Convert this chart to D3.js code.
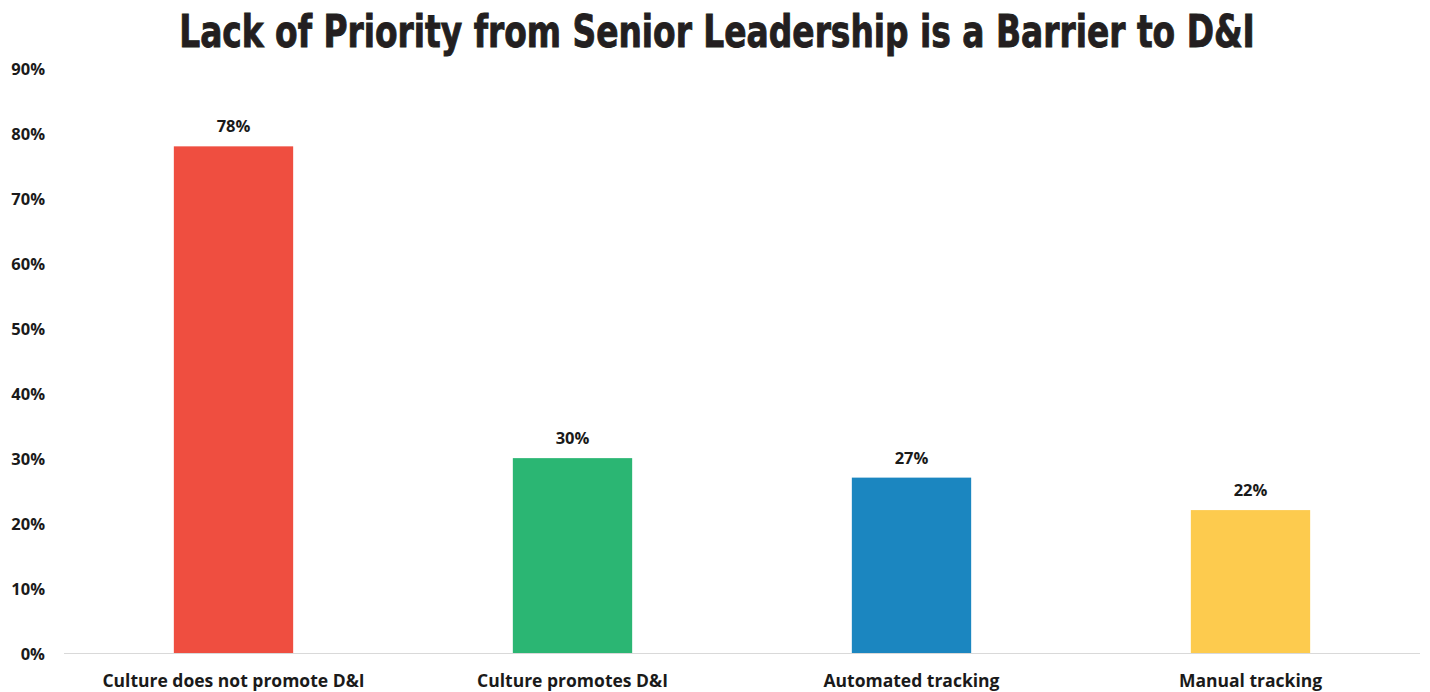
<!DOCTYPE html>
<html>
<head>
<meta charset="utf-8">
<script src="https://cdn.jsdelivr.net/npm/d3@7"></script>
<style>
  html, body { margin: 0; padding: 0; background: #ffffff; }
  svg { display: block; }
</style>
</head>
<body>
<svg id="chart" width="1430" height="692"></svg>
<script>
// Chart data
const title = "Lack of Priority from Senior Leadership is a Barrier to D&I";
const categories = ["Culture does not promote D&I", "Culture promotes D&I", "Automated tracking", "Manual tracking"];
const values = [0.78, 0.30, 0.27, 0.22];
const barColors = ["#EF4E40", "#2BB673", "#1B86C0", "#FDCB4E"];
const yTicks = [0, 0.1, 0.2, 0.3, 0.4, 0.5, 0.6, 0.7, 0.8, 0.9];

const svg = d3.select("#chart");
const labelFont = "'Open Sans', 'Liberation Sans', sans-serif";

const plot = { left: 64, right: 1420, top: 68.4, bottom: 653 };

const x = d3.scaleBand()
  .domain(categories)
  .range([plot.left, plot.right])
  .padding(0);

const y = d3.scaleLinear()
  .domain([0, 0.9])
  .range([plot.bottom, plot.top]);

const barWidth = x.bandwidth() * 0.352;

// Title: condensed heavy face, narrowed horizontally to a fixed width
const titleWidth = 1076, titleCenter = 717;
const titleG = svg.append("g");
const titleText = titleG.append("text")
  .attr("x", 0)
  .attr("y", 0)
  .attr("text-anchor", "middle")
  .style("font-family", "'DejaVu Sans Condensed', 'DejaVu Sans', sans-serif")
  .style("font-stretch", "condensed")
  .style("font-weight", "bold")
  .style("font-size", "44px")
  .style("fill", "#231F20")
  .style("stroke", "#231F20")
  .style("stroke-width", "0.9px")
  .text(title);
const natural = titleText.node().getComputedTextLength();
const sx = Math.min(1, titleWidth / natural);
titleG.attr("transform", `translate(${titleCenter},47) scale(${sx},1)`);

// Y axis labels (no line, no ticks)
const yAxis = d3.axisLeft(y)
  .tickValues(yTicks)
  .tickFormat(d3.format(".0%"))
  .tickSize(0)
  .tickPadding(0);

const yg = svg.append("g")
  .attr("transform", "translate(45,1)")
  .call(yAxis);
yg.select(".domain").remove();
yg.selectAll("text")
  .style("font-family", labelFont)
  .style("font-weight", "bold")
  .style("font-size", "16.5px")
  .style("fill", "#1A1A1A");

// Bars
svg.append("g")
  .selectAll("rect")
  .data(values)
  .join("rect")
  .attr("x", (d, i) => x(categories[i]) + (x.bandwidth() - barWidth) / 2)
  .attr("y", d => y(d))
  .attr("width", barWidth)
  .attr("height", d => y(0) - y(d))
  .attr("fill", (d, i) => barColors[i]);

// Baseline
svg.append("line")
  .attr("x1", plot.left)
  .attr("x2", plot.right)
  .attr("y1", y(0) + 0.5)
  .attr("y2", y(0) + 0.5)
  .attr("stroke", "#D9D9D9")
  .attr("stroke-width", 1.2);

// Value labels
svg.append("g")
  .selectAll("text")
  .data(values)
  .join("text")
  .attr("x", (d, i) => x(categories[i]) + x.bandwidth() / 2)
  .attr("y", d => y(d) - 14)
  .attr("text-anchor", "middle")
  .style("font-family", labelFont)
  .style("font-weight", "bold")
  .style("font-size", "16.5px")
  .style("fill", "#1A1A1A")
  .text(d => d3.format(".0%")(d));

// Category labels
const xAxis = d3.axisBottom(x).tickSize(0).tickPadding(0);
const xg = svg.append("g")
  .attr("transform", `translate(0,${y(0) + 22})`)
  .call(xAxis);
xg.select(".domain").remove();
xg.selectAll("text")
  .attr("dy", "0.71em")
  .style("font-family", labelFont)
  .style("font-weight", "bold")
  .style("font-size", "17.5px")
  .style("fill", "#1A1A1A");
</script>
</body>
</html>
